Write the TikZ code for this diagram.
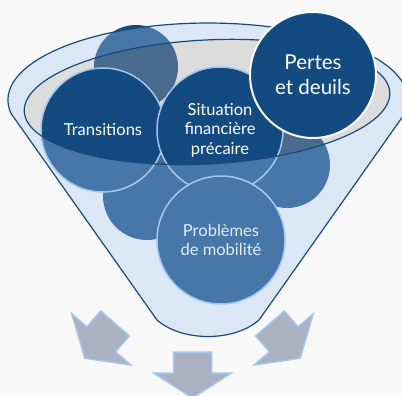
\documentclass[tikz,border=0pt]{standalone}
\usepackage{fontspec}
\setmainfont{Lato}
\usepackage{xcolor}
\usepackage{tikz}
\usetikzlibrary{calc}

\definecolor{paper}{HTML}{F8F8F8}
\definecolor{deepblue}{HTML}{134A80}
\definecolor{rimblue}{HTML}{1A4A7A}
\definecolor{edgeblue}{HTML}{A3C6F0}
\definecolor{funnelfill}{HTML}{A8CAF5}
\definecolor{mouthfill}{HTML}{A8A8A8}
\definecolor{arrowgray}{HTML}{AAB1C1}

\begin{document}
\begin{tikzpicture}[x=1pt,y=-1pt,
	bubble/.style={circle,minimum size=#1,inner sep=0pt,fill=deepblue,text=white,align=center,font=\fontsize{16.5}{19.5}\selectfont},
	frontbubble/.style={bubble=#1,draw=edgeblue,line width=1.5pt},
	outarrow/.style={fill=arrowgray,draw=edgeblue,line width=1.5pt}]
		\fill[paper] (0,0) rectangle (402,396);
		\useasboundingbox (0,0) rectangle (402,396);
		\clip (0,0) rectangle (402,396);
		
		% bubbles at the back
		\node[bubble=84pt] (backtop) at (136,67) {};
		\node[bubble=86pt] (backright) at (287,165) {};
		\node[bubble=88pt] (backleft) at (147,196) {};
		
		% mouth of the funnel
		\fill[mouthfill,opacity=0.35] (207,102) ellipse[x radius=183,y radius=62,rotate=3];
		
		% bubbles in front
		\node[frontbubble=124pt] (trans) at (103,130) {Transitions};
		\node[frontbubble=126pt] (finance) at (220,130) {Situation\\financière\\précaire};
		\node[frontbubble=128pt] (mobil) at (221,240) {Problèmes\\de mobilité};
		
		% funnel body
		\fill[funnelfill,opacity=0.35,even odd rule] (11,113.4) arc[start angle=170,end angle=370,x radius=200,y radius=77]
			-- (259,320) .. controls (234,342) and (182,342) .. (157,320) -- cycle
			(207,102) ellipse[x radius=183,y radius=62,rotate=3];
		\draw[rimblue,line width=1.2pt] (11,113.4) arc[start angle=170,end angle=370,x radius=200,y radius=77]
			-- (259,320) .. controls (234,342) and (182,342) .. (157,320) -- cycle;
		\draw[rimblue,line width=1.2pt] (207,102) ellipse[x radius=183,y radius=62,rotate=3];
		
		\node[bubble=126pt,draw=white,line width=2pt,font=\fontsize{20.5}{25}\selectfont] (loss) at (313,75) {Pertes\\et deuils};
		
		% arrows out of the funnel
		\begin{scope}[shift={(115,323.5)},rotate=-41]
		\draw[outarrow] (-19,0) -- (19,0) -- (19,21) -- (39,21) -- (0,46) -- (-39,21) -- (-19,21) -- cycle;
		\end{scope}
		\begin{scope}[shift={(192.5,352)}]
		\draw[outarrow] (-19,0) -- (19,0) -- (19,21) -- (39,21) -- (0,46) -- (-39,21) -- (-19,21) -- cycle;
		\end{scope}
		\begin{scope}[shift={(270,323.5)},rotate=41]
		\draw[outarrow] (-19,0) -- (19,0) -- (19,21) -- (39,21) -- (0,46) -- (-39,21) -- (-19,21) -- cycle;
		\end{scope}
\end{tikzpicture}
\end{document}
